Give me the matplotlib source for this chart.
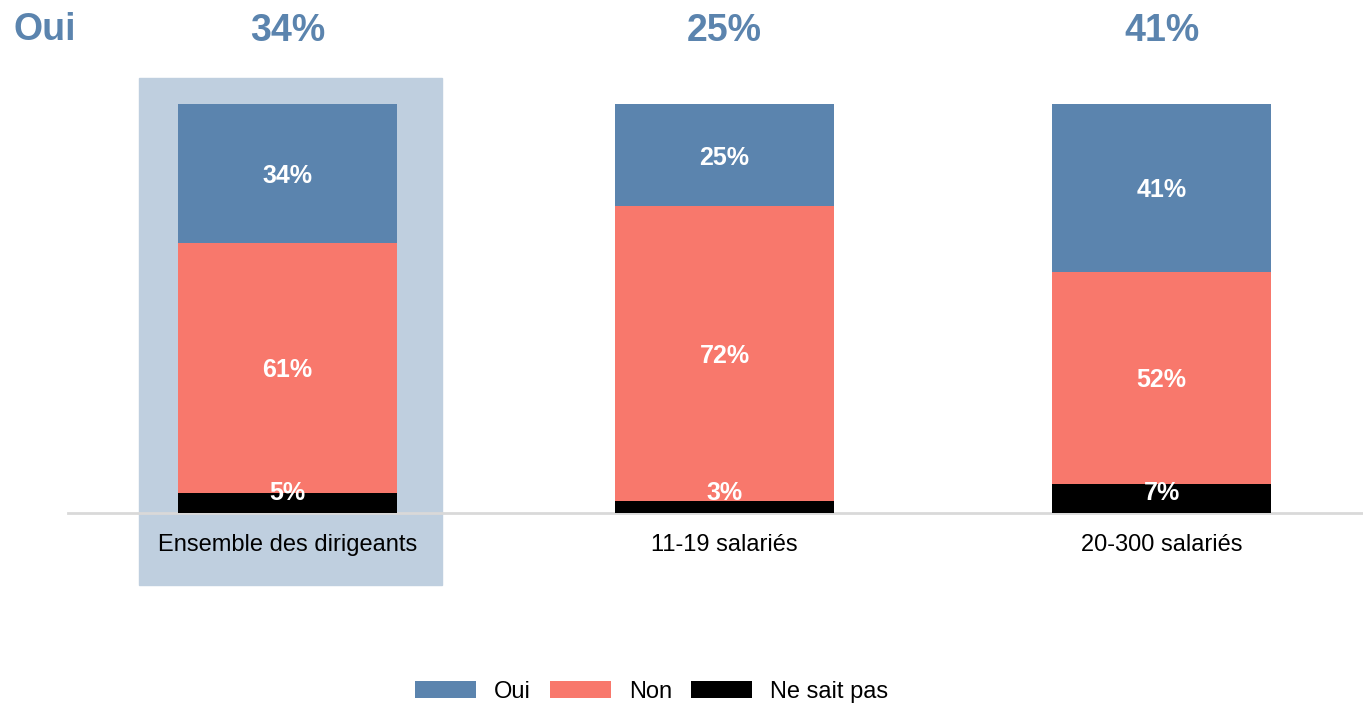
import matplotlib.pyplot as plt
from matplotlib.patches import Rectangle

plt.rcParams['font.family'] = ['Liberation Sans', 'DejaVu Sans']

# Data
categories = ['Ensemble des dirigeants', '11-19 salariés', '20-300 salariés']
oui = [34, 25, 41]
non = [61, 72, 52]
nsp = [5, 3, 7]

c_oui = '#5b84ae'
c_non = '#f8786c'
c_nsp = '#000000'
c_highlight = '#bfcfdf'

fig = plt.figure(figsize=(13.63, 7.03), dpi=100)
ax = fig.add_axes([0, 0, 1, 1])
ax.set_xlim(-0.658, 2.461)
ax.set_ylim(-46.45, 125.43)
ax.axis('off')

x = list(range(len(categories)))
width = 0.5

# highlight box behind the first column
ax.add_patch(Rectangle((-0.340, -17.6), 0.694, 123.96, color=c_highlight, zorder=0))

# stacked bars, black at the bottom
ax.bar(x, nsp, width, color=c_nsp, label='Ne sait pas', zorder=2)
ax.bar(x, non, width, bottom=nsp, color=c_non, label='Non', zorder=2)
bottom_oui = [a + b for a, b in zip(nsp, non)]
ax.bar(x, oui, width, bottom=bottom_oui, color=c_oui, label='Oui', zorder=2)

# baseline
ax.plot([-0.503, 2.461], [0, 0], color='#d9d9d9', lw=2, zorder=1)

# segment labels
for i in x:
    ax.text(i, bottom_oui[i] + oui[i] / 2 - 0.6, f'{oui[i]}%', ha='center', va='center',
            color='white', fontsize=18, fontweight='bold', zorder=3)
    ax.text(i, nsp[i] + non[i] / 2 - 0.6, f'{non[i]}%', ha='center', va='center',
            color='white', fontsize=18, fontweight='bold', zorder=3)
    ax.text(i, 4.9, f'{nsp[i]}%', ha='center', va='center',
            color='white', fontsize=18, fontweight='bold', zorder=3)
    # category names under the baseline
    ax.text(i, -7.8, categories[i], ha='center', va='center', fontsize=17, color='black')
    # "Oui" totals on top
    ax.text(i, 117.9, f'{oui[i]}%', ha='center', va='center', color=c_oui,
            fontsize=27, fontweight='bold')

ax.text(-0.555, 118.1, 'Oui', ha='center', va='center', color=c_oui,
        fontsize=27, fontweight='bold')

handles, labels = ax.get_legend_handles_labels()
order = [2, 1, 0]
fig.legend([handles[k] for k in order], [labels[k] for k in order],
           loc='center', bbox_to_anchor=(0.478, 0.016), ncol=3, frameon=False,
           fontsize=17, handlelength=2.6, handleheight=0.72, handletextpad=0.75,
           columnspacing=0.8)

fig.savefig('out.png', dpi=100)
